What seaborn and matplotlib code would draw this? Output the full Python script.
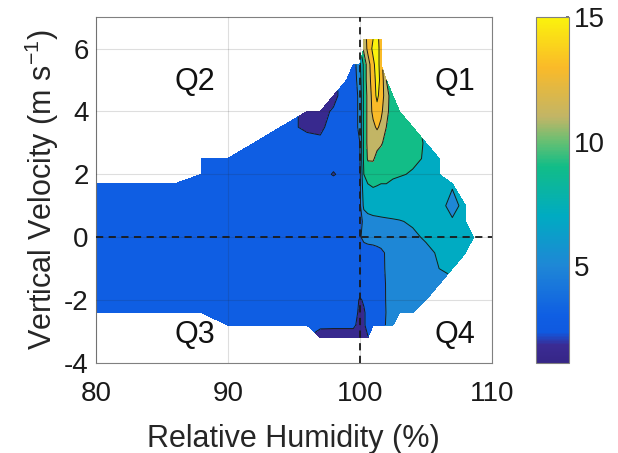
import numpy as np
import matplotlib
matplotlib.use("Agg")
import matplotlib.pyplot as plt
from matplotlib.colors import LinearSegmentedColormap, Normalize
from matplotlib.colorbar import ColorbarBase
import seaborn as sns

n = np.nan

# relative humidity (%) grid columns
rh = [80, 82, 84, 86, 88, 90, 92, 94, 96, 97, 98, 99, 99.5, 100, 100.3, 100.6,
      101, 101.3, 101.6, 102, 102.5, 103, 104, 105, 106, 107, 108, 108.6]

# vertical velocity (m/s) grid rows, top to bottom
w = [6.3, 6.0, 5.5, 5.0, 4.5, 4.0, 3.5, 3.0, 2.5, 2.0, 1.7, 1.0, 0.5, 0.0,
     -0.5, -1.0, -1.5, -2.0, -2.4, -2.8, -3.2]

# values read off the shaded field (nan = no data)
r63 = [n]*13 + [n, 11, 12.5, 14, 15, 12.5] + [n]*9
r60 = [n]*13 + [n, 10.5, 12.5, 14.5, 15, 13] + [n]*9
r55 = [n]*12 + [3] + [5.5, 8.5, 11, 13.5, 15, 13] + [n]*9
r50 = [n]*11 + [3, 3] + [5, 8.5, 11, 13, 14.8, 13.5, 10] + [n]*8
r45 = [n]*10 + [1.5, 3, 3] + [4.5, 8.5, 10.5, 12.8, 14.5, 13, 11, 8.5] + [n]*7
r40 = [n]*8 + [1.5, 1.5, 2.2, 3, 3] + [4.5, 8.5, 10.5, 12.5, 13.2, 12.5, 10.5, 9, 8.5] + [n]*6
r35 = [n]*7 + [3, 1.5, 1.5, 3, 3, 3] + [4.5, 8.5, 10.5, 11.5, 12.3, 11.5, 10, 9, 9, 8.5] + [n]*5
r30 = [n]*6 + [3, 3, 3, 2.5, 3, 3, 3] + [4, 8.5, 10.5, 10.8, 10.5, 10.2, 9.5, 9, 9, 8.7, 7.8] + [n]*4
r25 = [n]*4 + [3]*9 + [4, 8.5, 10.2, 10.2, 9.5, 9.2, 9, 8.8, 8.7, 8.4, 7.8, 7] + [n]*3
r20 = [n]*4 + [3, 3, 3, 3, 3, 3, 1.8, 3, 3] + [3.5, 8, 8.8, 9, 8.8, 8.7, 8.5, 8.4, 8.2, 7.8, 7.3, 7] + [n]*3
r17 = [3]*13 + [3.5, 7.5, 8, 8.2, 8.1, 8, 8, 7.6, 7.4, 7, 7, 6.5, 6.1] + [n]*2
r10 = [3]*13 + [3.5, 6.5, 6.8, 7, 7, 7, 7, 7, 7, 6.8, 6.5, 6.3, 5.7, 6.3] + [n]
r05 = [3]*13 + [3.2, 4.5, 5.2, 5.4, 5.5, 5.6, 5.7, 5.8, 5.9, 6.2, 6.5, 6.4, 6.1, 6.3] + [n]
r00 = [3]*13 + [3.8, 4.5, 4.8, 5, 5, 5, 5.1, 5.2, 5.3, 5.7, 6.2, 6.5, 6.5, 6.5, 6.3]
rm05 = [3]*13 + [3, 3, 3, 3, 3.3, 3.6, 4.2, 4.5, 4.6, 5, 5.6, 6.2, 6.2, 6] + [n]
rm10 = [3]*13 + [3, 3, 3, 3, 3.2, 3.5, 4.2, 4.5, 4.6, 5, 5.3, 6, 6.2] + [n]*2
rm15 = [3]*13 + [3, 3, 3, 3, 3.2, 3.4, 4.1, 4.4, 4.5, 5, 5.2, 5.6] + [n]*3
rm20 = [3]*13 + [1.8, 2.2, 3, 3, 3, 3.3, 4.1, 4.3, 4.5, 4.8, 5] + [n]*4
rm24 = [3]*13 + [1.5, 1.8, 2.5, 3, 3, 3.3, 4.05, 4.2, 4.3, 4.5] + [n]*5
rm28 = [n]*5 + [3, 3, 3, 3, 2.3, 2.3, 2.3, 2.3] + [1.5, 1.8, 2.5, 3, 3, 3.5, 4.1, 4.2] + [n]*7
rm32 = [n]*9 + [1.3, 1.2, 1.2, 1.2] + [1.2, 1.5, 1.9] + [n]*12

field = np.ma.masked_invalid(np.array([r63, r60, r55, r50, r45, r40, r35, r30, r25, r20,
                                       r17, r10, r05, r00, rm05, rm10, rm15, rm20,
                                       rm24, rm28, rm32]))

levels = [1, 2, 4, 6, 8, 10, 12, 14, 16]
cbar_ticks = [5, 10, 15]
vmin, vmax = 1.1, 15

# parula-like colours, matched to the reference colorbar
anchors = [(1.1, (0.21, 0.15, 0.53)), (1.8, (0.23, 0.17, 0.58)), (2.3, (0.06, 0.35, 0.88)),
           (3.0, (0.06, 0.37, 0.89)), (5.0, (0.12, 0.53, 0.84)), (7.0, (0.00, 0.67, 0.76)),
           (9.0, (0.07, 0.74, 0.53)), (10.0, (0.40, 0.75, 0.45)), (11.0, (0.76, 0.71, 0.40)),
           (13.0, (0.98, 0.73, 0.16)), (15.0, (0.98, 0.95, 0.05))]
parula = LinearSegmentedColormap.from_list(
    "parula", [((v - vmin) / (vmax - vmin), c) for v, c in anchors])
norm = Normalize(vmin=vmin, vmax=vmax)

sns.set_theme(style="white")
plt.rcParams['font.family'] = ['Liberation Sans', 'DejaVu Sans']
plt.rcParams['mathtext.fontset'] = 'custom'
plt.rcParams['mathtext.rm'] = 'Liberation Sans'
plt.rcParams['axes.unicode_minus'] = False

fig = plt.figure(figsize=(6.18, 4.53), dpi=100)
ax = fig.add_axes([0.155, 0.199, 0.641, 0.763])

ax.contourf(rh, w, field, levels=levels, cmap=parula, norm=norm, zorder=1)
ax.contour(rh, w, field, levels=levels[1:-1], colors='k', linewidths=0.7, zorder=2)

ax.axvline(100, color='k', ls=(0, (4, 3)), lw=1.3, zorder=4)
ax.axhline(0, color='k', ls=(0, (4, 3)), lw=1.3, zorder=4)

ax.set_xlim(80, 110)
ax.set_ylim(-4, 7)
ax.set_xticks([80, 90, 100, 110])
ax.set_yticks([-4, -2, 0, 2, 4, 6])
ax.grid(True, color='#262626', alpha=0.15, lw=0.8, zorder=3)
ax.set_axisbelow(False)
for s in ax.spines.values():
    s.set_color('#808080')
    s.set_linewidth(0.8)
ax.tick_params(direction='in', length=3, color='#808080', labelsize=20,
               labelcolor='#1a1a1a')
ax.tick_params(axis='x', pad=13)
ax.tick_params(axis='y', pad=5)

ax.set_xlabel('Relative Humidity (%)', fontsize=22, color='#262626', labelpad=12)
ax.set_ylabel('Vertical Velocity (m s$^{-1}$)', fontsize=22, color='#262626', labelpad=2)

for lab, x, y in [('Q1', 107.2, 4.95), ('Q2', 87.5, 4.95), ('Q3', 87.5, -3.1), ('Q4', 107.2, -3.1)]:
    ax.text(x, y, lab, fontsize=22, ha='center', va='center', color='#111111', zorder=5)

cax = fig.add_axes([0.867, 0.199, 0.054, 0.763])
cb = ColorbarBase(cax, cmap=parula, norm=norm, ticks=cbar_ticks)
cb.outline.set_edgecolor('#808080')
cb.outline.set_linewidth(0.8)
cax.tick_params(labelsize=20, length=2, direction='in', color='#606060', labelcolor='#1a1a1a')

fig.savefig('out.png', dpi=100)
